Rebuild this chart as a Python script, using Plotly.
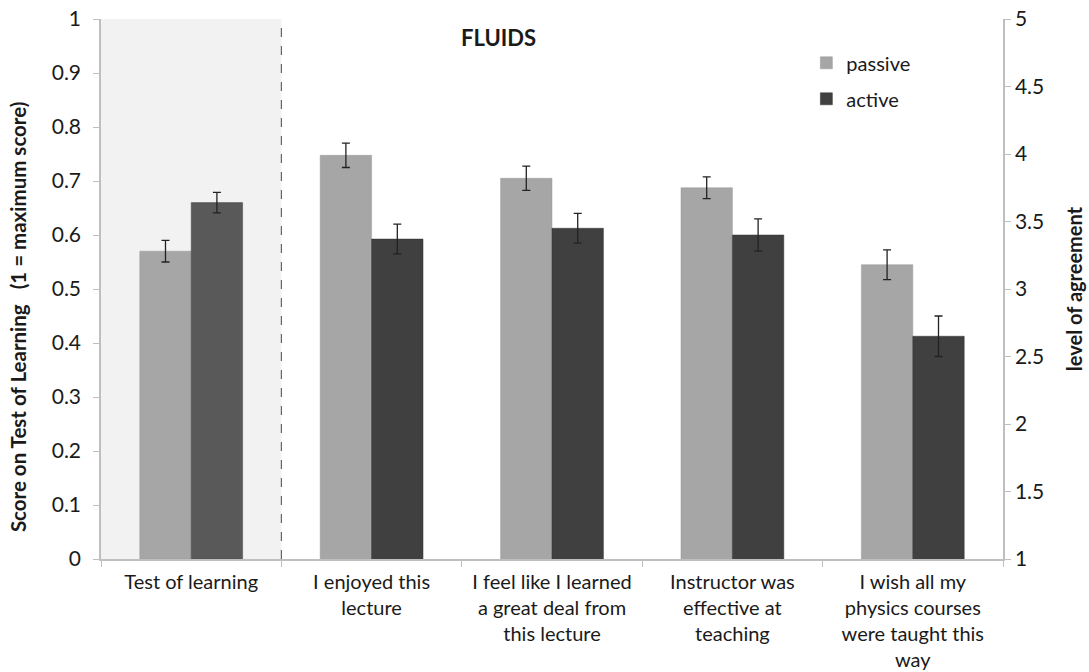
import plotly.graph_objects as go

categories = ["Test of learning", "I enjoyed this<br>lecture", "I feel like I learned<br>a great deal from<br>this lecture",
              "Instructor was<br>effective at<br>teaching", "I wish all my<br>physics courses<br>were taught this<br>way"]

# Test of learning (left axis, score 0-1)
test_passive = [0.570]
test_passive_err = [0.020]
test_active = [0.660]
test_active_err = [0.019]

# Agreement questions (right axis, level of agreement 1-5)
agree_passive = [3.99, 3.82, 3.75, 3.18]
agree_passive_err = [0.09, 0.09, 0.08, 0.11]
agree_active = [3.37, 3.45, 3.40, 2.65]
agree_active_err = [0.11, 0.11, 0.12, 0.15]

PASSIVE = "#a6a6a6"
ACTIVE = "#404040"
ACTIVE_TEST = "#595959"
FONT = "Lato"
TXT = "#1a1a1a"

err_style = dict(type="data", thickness=1.3, width=4, color="#222222")

fig = go.Figure()
fig.add_trace(go.Bar(x=categories[:1], y=test_passive, name="passive", marker_color=PASSIVE,
                     marker_line=dict(color="#999999", width=0.5),
                     error_y=dict(array=test_passive_err, **err_style), yaxis="y",
                     legendgroup="passive", showlegend=True))
fig.add_trace(go.Bar(x=categories[:1], y=test_active, name="active", marker_color=ACTIVE_TEST,
                     marker_line=dict(color="#4a4a4a", width=0.5),
                     error_y=dict(array=test_active_err, **err_style), yaxis="y",
                     legendgroup="active", showlegend=False))
fig.add_trace(go.Bar(x=categories[1:], y=agree_passive, name="passive", marker_color=PASSIVE,
                     marker_line=dict(color="#999999", width=0.5),
                     error_y=dict(array=agree_passive_err, **err_style), yaxis="y2",
                     legendgroup="passive", showlegend=False))
fig.add_trace(go.Bar(x=categories[1:], y=agree_active, name="active", marker_color=ACTIVE,
                     marker_line=dict(color="#333333", width=0.5),
                     error_y=dict(array=agree_active_err, **err_style), yaxis="y2",
                     legendgroup="active", showlegend=True))

axis_line = "#bfbfbf"
fig.update_layout(
    width=1089, height=672,
    margin=dict(l=101, r=86, t=19, b=113),
    paper_bgcolor="white", plot_bgcolor="white",
    font=dict(family=FONT, size=21, color=TXT),
    barmode="group", bargap=0.43, bargroupgap=0,
    showlegend=True,
    legend=dict(x=0.782, y=0.955, xanchor="left", yanchor="top", bgcolor="rgba(0,0,0,0)",
                font=dict(size=20), traceorder="grouped", tracegroupgap=7),
    xaxis=dict(type="category", categoryorder="array", categoryarray=categories,
               showline=True, linecolor=axis_line, linewidth=1.5, ticks="outside",
               tickson="boundaries", ticklen=6, tickcolor=axis_line, showgrid=False,
               tickfont=dict(size=20, color=TXT), range=[-0.5, 4.5], automargin=False,
               ticklabelstandoff=4),
    yaxis=dict(range=[0, 1], dtick=0.1, showline=True, linecolor=axis_line, linewidth=1.5,
               ticks="outside", ticklen=6, tickcolor=axis_line, showgrid=False, zeroline=False,
               tickfont=dict(size=21, color=TXT), automargin=False, ticklabelstandoff=8),
    yaxis2=dict(range=[1, 5], dtick=0.5, overlaying="y", side="right", showline=True,
                linecolor=axis_line, linewidth=1.5, ticks="outside", ticklen=6, tickcolor=axis_line,
                showgrid=False, zeroline=False, tickfont=dict(size=21, color=TXT), automargin=False,
                title=dict(text="<b>level of agreement</b>", font=dict(size=20), standoff=25)),
    shapes=[
        dict(type="rect", xref="x", yref="paper", x0=-0.5, x1=0.5, y0=0, y1=1,
             fillcolor="#f2f2f2", line_width=0, layer="below"),
        dict(type="line", xref="x", yref="paper", x0=0.5, x1=0.5, y0=0, y1=1,
             line=dict(color="#666666", width=1.2, dash="dash"), layer="above"),
    ],
    annotations=[
        dict(text="<b>FLUIDS</b>", xref="paper", yref="paper", x=0.441, y=0.965,
             showarrow=False, font=dict(size=22, color=TXT), xanchor="center", yanchor="middle"),
        dict(text="<b>Score on Test of Learning   (1 = maximum score)</b>", xref="paper", yref="paper",
             x=-0.092, y=0.448, textangle=-90, showarrow=False, font=dict(size=20.5, color=TXT),
             xanchor="center", yanchor="middle"),
    ],
)

fig.write_html("out.html", config={"displayModeBar": False},
               post_script="document.body.style.margin='0';document.body.style.overflow='hidden';")
